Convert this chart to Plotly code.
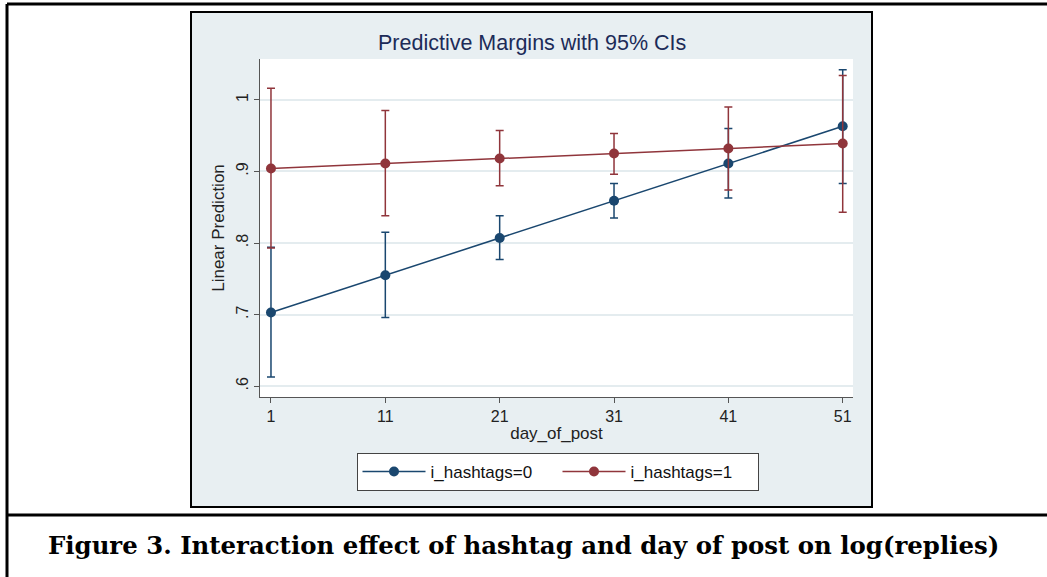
import plotly.graph_objects as go

# ---------------- data ----------------
days = [1, 11, 21, 31, 41, 51]

margin_h0 = [0.703, 0.755, 0.807, 0.859, 0.911, 0.963]
ci_low_h0 = [0.613, 0.696, 0.777, 0.835, 0.863, 0.883]
ci_high_h0 = [0.794, 0.815, 0.838, 0.883, 0.960, 1.042]

margin_h1 = [0.904, 0.911, 0.918, 0.925, 0.932, 0.939]
ci_low_h1 = [0.793, 0.838, 0.880, 0.896, 0.874, 0.843]
ci_high_h1 = [1.016, 0.985, 0.957, 0.953, 0.990, 1.034]

y_tick_vals = [0.6, 0.7, 0.8, 0.9, 1.0]
y_tick_text = [".6", ".7", ".8", ".9", "1"]
x_tick_vals = days
x_tick_text = [str(d) for d in days]

series_names = ["i_hashtags=0", "i_hashtags=1"]
chart_title = "Predictive Margins with 95% CIs"
x_title = "day_of_post"
y_title = "Linear Prediction"
caption = "Figure 3. Interaction effect of hashtag and day of post on log(replies)"

# ---------------- styling ----------------
W, H = 1047, 577
BLUE = "#1a476f"
RED = "#90353b"
SANS = "Liberation Sans, Arial, sans-serif"
BG = "#e8eff2"
GRID = "#e4ecef"
AXIS = "#555555"


def px_x(p):
    return p / W


def px_y(p):
    return (H - p) / H


def trace(name, m, lo, hi, color):
    return go.Scatter(
        x=days, y=m, name=name, mode="lines+markers",
        line=dict(color=color, width=1.5),
        marker=dict(color=color, size=10, symbol="circle"),
        error_y=dict(
            type="data", symmetric=False,
            array=[h - v for h, v in zip(hi, m)],
            arrayminus=[v - l for v, l in zip(m, lo)],
            color=color, thickness=1.5, width=4,
        ),
    )


fig = go.Figure()
fig.add_trace(trace(series_names[0], margin_h0, ci_low_h0, ci_high_h0, BLUE))
fig.add_trace(trace(series_names[1], margin_h1, ci_low_h1, ci_high_h1, RED))

shapes = [
    # grey Stata graph region with black border
    dict(type="rect", xref="paper", yref="paper",
         x0=px_x(191), x1=px_x(872), y0=px_y(507), y1=px_y(12),
         fillcolor=BG, line=dict(color="black", width=2), layer="below"),
    # white plot region
    dict(type="rect", xref="x domain", yref="y domain",
         x0=0, x1=1, y0=0, y1=1,
         fillcolor="white", line=dict(width=0), layer="below"),
    # outer table frame
    dict(type="line", xref="paper", yref="paper",
         x0=px_x(7), x1=px_x(7), y0=0, y1=px_y(4),
         line=dict(color="black", width=3)),
    dict(type="line", xref="paper", yref="paper",
         x0=px_x(7), x1=1, y0=px_y(4), y1=px_y(4),
         line=dict(color="black", width=3)),
    dict(type="line", xref="paper", yref="paper",
         x0=px_x(7), x1=1, y0=px_y(515), y1=px_y(515),
         line=dict(color="black", width=3)),
]

annotations = [
    dict(text=chart_title, xref="paper", yref="paper",
         x=px_x(532), y=px_y(43), xanchor="center", yanchor="middle",
         showarrow=False, font=dict(family=SANS, size=21.5, color="#1c2b58")),
    dict(text="<b>" + caption + "</b>", xref="paper", yref="paper",
         x=0.5, y=px_y(545), xanchor="center", yanchor="middle",
         showarrow=False, font=dict(family="DejaVu Serif, serif", size=24.4, color="black")),
]

fig.update_layout(
    width=W, height=H,
    margin=dict(l=0, r=0, t=0, b=0),
    paper_bgcolor="white",
    plot_bgcolor="rgba(0,0,0,0)",
    showlegend=True,
    shapes=shapes,
    annotations=annotations,
    font=dict(family=SANS, color="#222222"),
    legend=dict(
        orientation="h",
        x=px_x(557.5), y=px_y(453), xanchor="center", yanchor="top",
        bgcolor="white", bordercolor="#444444", borderwidth=1,
        font=dict(family=SANS, size=17, color="#111111"),
        itemwidth=63,
        entrywidth=122,
    ),
)

fig.update_xaxes(
    domain=[px_x(260), px_x(853)],
    range=[0.04, 51.9],
    tickmode="array", tickvals=x_tick_vals, ticktext=x_tick_text,
    ticks="outside", ticklen=5, tickcolor=AXIS, tickwidth=1,
    showline=True, linecolor=AXIS, linewidth=1,
    showgrid=False, zeroline=False,
    tickfont=dict(family=SANS, size=16, color="#222222"),
    title=dict(text=x_title, font=dict(family=SANS, size=17, color="#222222"), standoff=2),
)

fig.update_yaxes(
    domain=[px_y(397), px_y(59)],
    range=[0.585, 1.057],
    tickmode="array", tickvals=y_tick_vals, ticktext=y_tick_text,
    tickangle=-90,
    ticks="outside", ticklen=5, tickcolor=AXIS, tickwidth=1,
    showline=True, linecolor=AXIS, linewidth=1,
    showgrid=True, gridcolor=GRID, gridwidth=1.5,
    zeroline=False,
    tickfont=dict(family=SANS, size=16, color="#222222"),
    title=dict(text=y_title, font=dict(family=SANS, size=17, color="#222222"), standoff=4),
)

fig.write_html(
    "out.html",
    config={"displayModeBar": False},
    post_script="document.body.style.margin='0';document.body.style.overflow='hidden';",
)
